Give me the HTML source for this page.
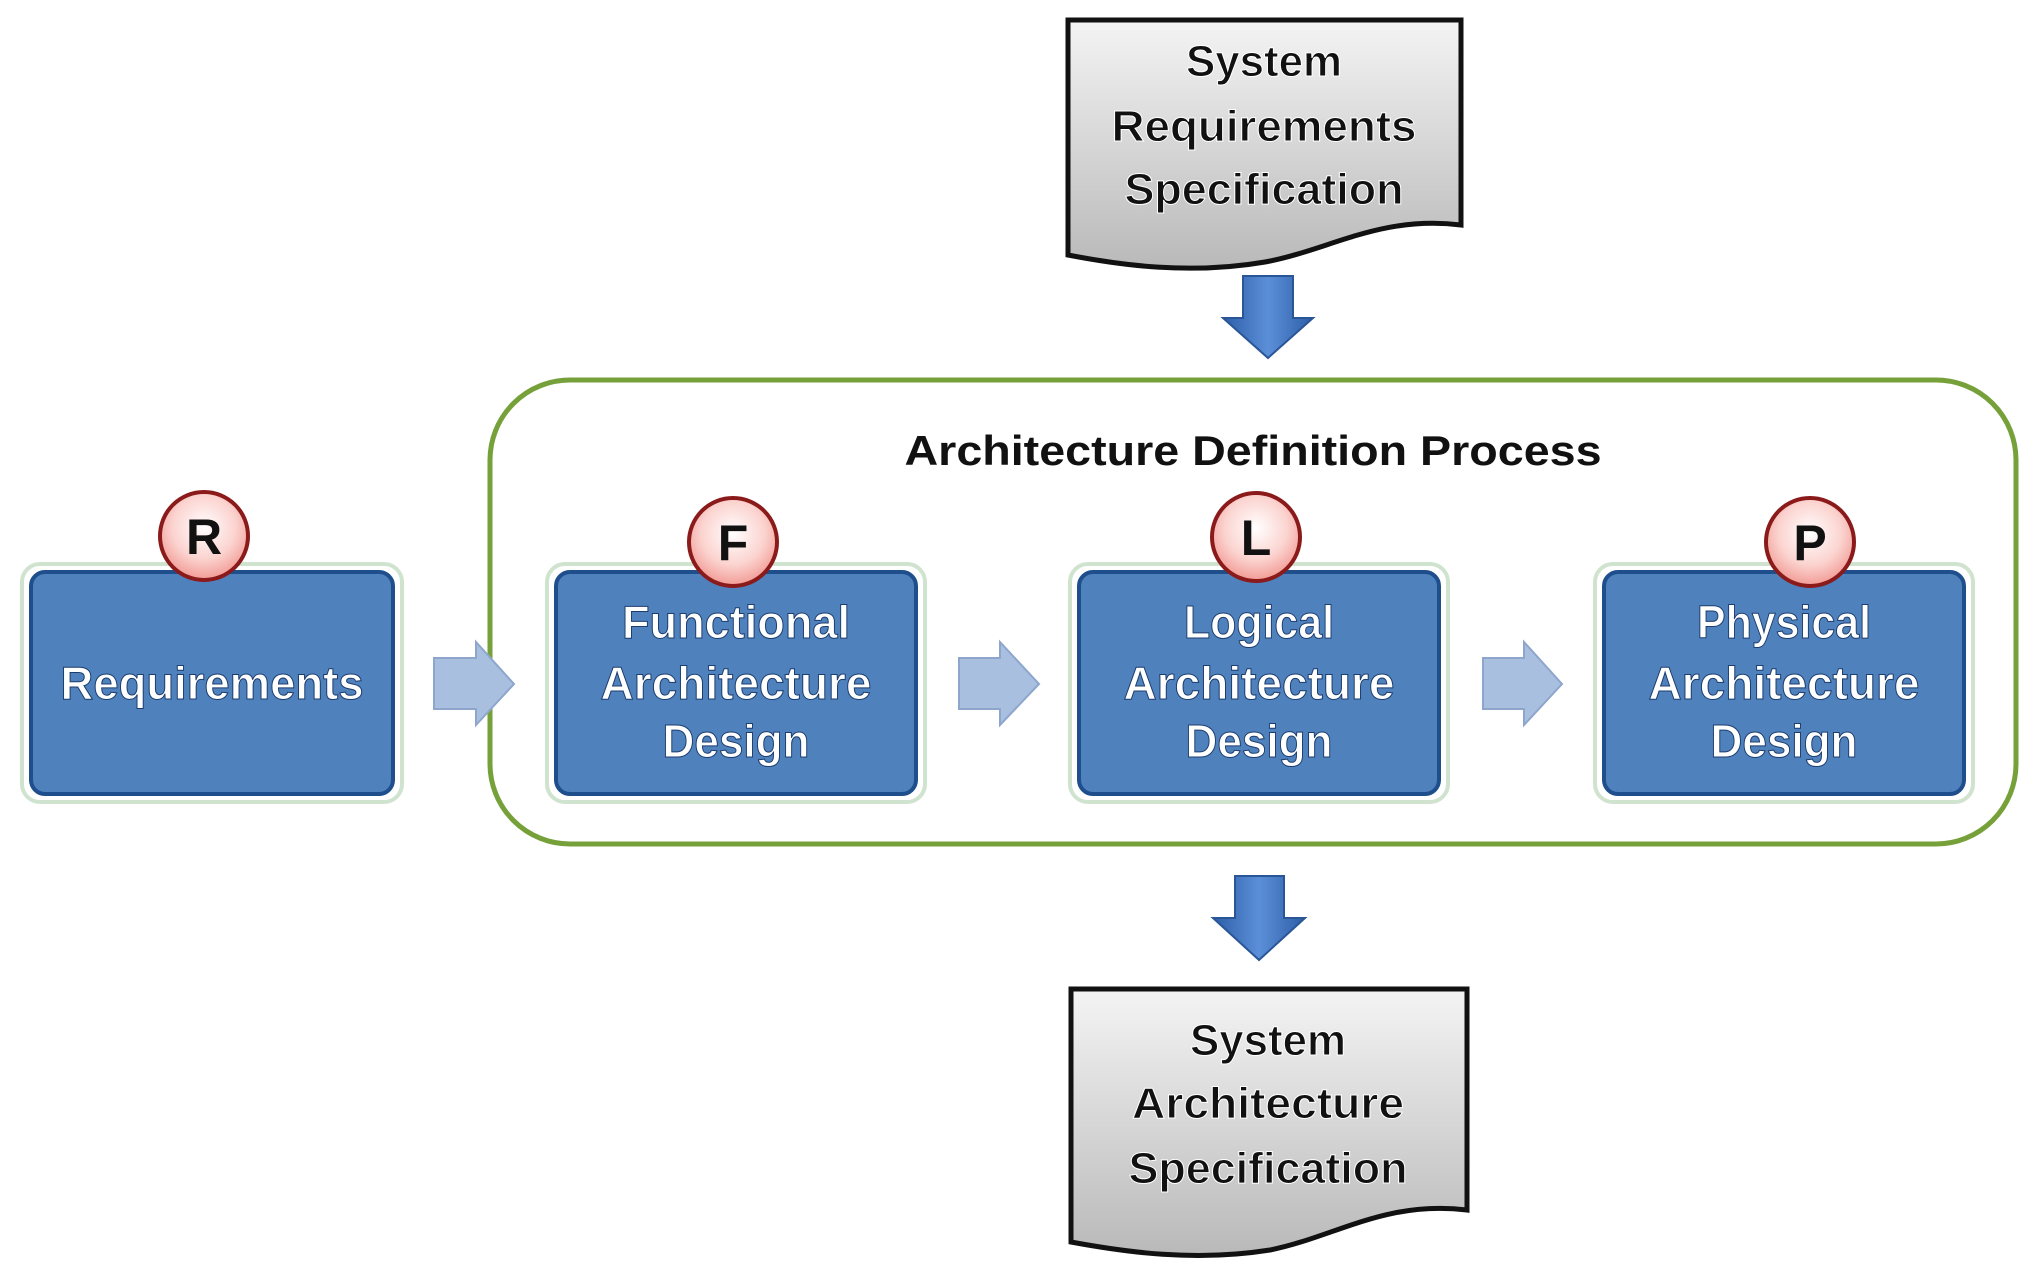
<!DOCTYPE html>
<html><head><meta charset="utf-8"><style>html,body{margin:0;padding:0;background:#fff}svg{display:block}</style></head>
<body>
<svg width="2031" height="1284" viewBox="0 0 2031 1284" xmlns="http://www.w3.org/2000/svg" font-family="'Liberation Sans', sans-serif">
<defs>
<linearGradient id="doc" x1="0" y1="0" x2="0" y2="1"><stop offset="0" stop-color="#f4f4f4"/><stop offset="1" stop-color="#b9b9b9"/></linearGradient>
<linearGradient id="barr" x1="0" y1="0" x2="1" y2="0"><stop offset="0" stop-color="#2d5ea8"/><stop offset="0.5" stop-color="#5b8fd8"/><stop offset="1" stop-color="#2d5ea8"/></linearGradient>
<radialGradient id="circ" cx="0.5" cy="0.4" r="0.6"><stop offset="0" stop-color="#ffffff"/><stop offset="0.6" stop-color="#fbd3cf"/><stop offset="1" stop-color="#f29a94"/></radialGradient>
</defs>

<!-- top document -->
<path d="M1068 20 H1461 V225 C1380 215 1330 250 1265 262 C1190 275 1120 265 1068 255 Z" fill="url(#doc)" stroke="#111" stroke-width="5"/>
<g font-size="44" font-weight="bold" text-anchor="middle" fill="#111" stroke="#fff" stroke-width="1">
<text x="1264" y="76" textLength="156" lengthAdjust="spacingAndGlyphs">System</text>
<text x="1264" y="141" textLength="305" lengthAdjust="spacingAndGlyphs">Requirements</text>
<text x="1264" y="204" textLength="279" lengthAdjust="spacingAndGlyphs">Specification</text>
</g>

<!-- top arrow -->
<path d="M1243 276 H1293 V318 H1313 L1268 358 L1223 318 H1243 Z" fill="url(#barr)" stroke="#2a5596" stroke-width="2"/>

<!-- container -->
<rect x="490" y="380" width="1526" height="464" rx="80" fill="#fff" stroke="#76a13a" stroke-width="5"/>
<text x="1253" y="465" font-size="42" font-weight="bold" text-anchor="middle" fill="#111" textLength="697" lengthAdjust="spacingAndGlyphs">Architecture Definition Process</text>

<!-- light arrows -->
<g fill="#a9bfe0" stroke="#8ea6cc" stroke-width="2">
<path d="M434 658 H476 V642 L514 684 L476 725 V709 H434 Z"/>
<path d="M959 658 H1000 V642 L1039 684 L1000 725 V709 H959 Z"/>
<path d="M1483 658 H1524 V642 L1562 684 L1524 725 V709 H1483 Z"/>
</g>

<!-- boxes -->
<g>
<rect x="22" y="564" width="380" height="238" rx="18" fill="#fff" stroke="#cfe3cf" stroke-width="4"/>
<rect x="31" y="572" width="362" height="222" rx="14" fill="#4f81bd" stroke="#1f4e8c" stroke-width="4"/>
<rect x="547" y="564" width="378" height="238" rx="18" fill="#fff" stroke="#cfe3cf" stroke-width="4"/>
<rect x="556" y="572" width="360" height="222" rx="14" fill="#4f81bd" stroke="#1f4e8c" stroke-width="4"/>
<rect x="1070" y="564" width="378" height="238" rx="18" fill="#fff" stroke="#cfe3cf" stroke-width="4"/>
<rect x="1079" y="572" width="360" height="222" rx="14" fill="#4f81bd" stroke="#1f4e8c" stroke-width="4"/>
<rect x="1595" y="564" width="378" height="238" rx="18" fill="#fff" stroke="#cfe3cf" stroke-width="4"/>
<rect x="1604" y="572" width="360" height="222" rx="14" fill="#4f81bd" stroke="#1f4e8c" stroke-width="4"/>
</g>
<g font-size="46" font-weight="bold" text-anchor="middle" fill="#fff" stroke="#1c3d6e" stroke-width="1">
<text x="212" y="699" textLength="303" lengthAdjust="spacingAndGlyphs">Requirements</text>
<text x="736" y="638" textLength="228" lengthAdjust="spacingAndGlyphs">Functional</text>
<text x="736" y="699" textLength="271" lengthAdjust="spacingAndGlyphs">Architecture</text>
<text x="736" y="757" textLength="147" lengthAdjust="spacingAndGlyphs">Design</text>
<text x="1259" y="638" textLength="150" lengthAdjust="spacingAndGlyphs">Logical</text>
<text x="1259" y="699" textLength="271" lengthAdjust="spacingAndGlyphs">Architecture</text>
<text x="1259" y="757" textLength="147" lengthAdjust="spacingAndGlyphs">Design</text>
<text x="1784" y="638" textLength="174" lengthAdjust="spacingAndGlyphs">Physical</text>
<text x="1784" y="699" textLength="271" lengthAdjust="spacingAndGlyphs">Architecture</text>
<text x="1784" y="757" textLength="147" lengthAdjust="spacingAndGlyphs">Design</text>
</g>

<!-- circles -->
<g fill="url(#circ)" stroke="#8b1a1a" stroke-width="4">
<circle cx="204" cy="536" r="44"/>
<circle cx="733" cy="542" r="44"/>
<circle cx="1256" cy="537" r="44"/>
<circle cx="1810" cy="542" r="44"/>
</g>
<g font-size="50" font-weight="bold" text-anchor="middle" fill="#111">
<text x="204" y="554">R</text>
<text x="733" y="560">F</text>
<text x="1256" y="555">L</text>
<text x="1810" y="560">P</text>
</g>

<!-- bottom arrow -->
<path d="M1235 876 H1284 V918 H1305 L1259 960 L1213 918 H1235 Z" fill="url(#barr)" stroke="#2a5596" stroke-width="2"/>

<!-- bottom document -->
<path d="M1071 989 H1467 V1210 C1385 1200 1335 1237 1270 1250 C1195 1262 1125 1252 1071 1242 Z" fill="url(#doc)" stroke="#111" stroke-width="5"/>
<g font-size="44" font-weight="bold" text-anchor="middle" fill="#111" stroke="#fff" stroke-width="1">
<text x="1268" y="1055" textLength="156" lengthAdjust="spacingAndGlyphs">System</text>
<text x="1268" y="1118" textLength="272" lengthAdjust="spacingAndGlyphs">Architecture</text>
<text x="1268" y="1183" textLength="279" lengthAdjust="spacingAndGlyphs">Specification</text>
</g>
</svg>
</body></html>
